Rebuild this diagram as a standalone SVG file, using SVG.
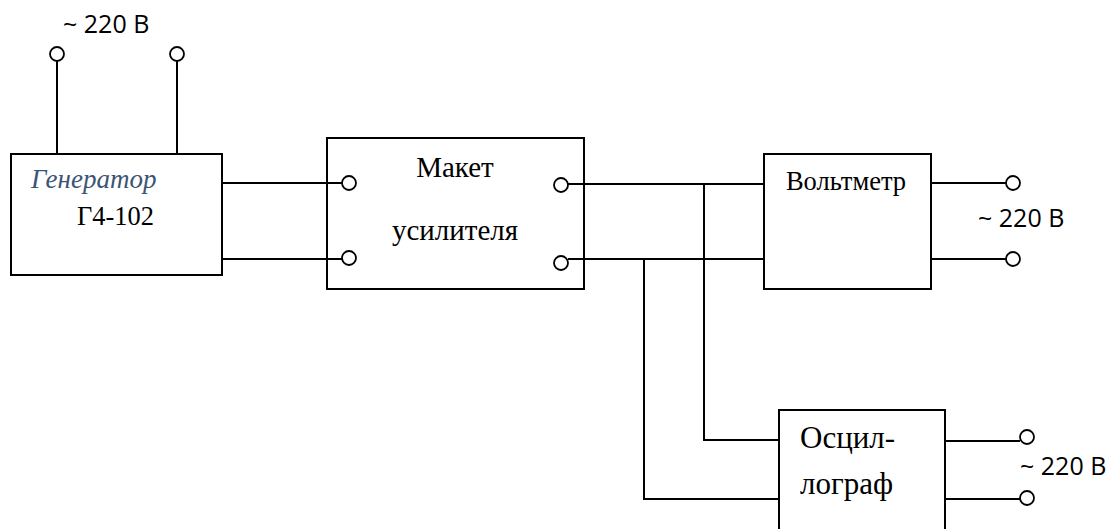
<svg xmlns="http://www.w3.org/2000/svg" width="1112" height="529" viewBox="0 0 1112 529">
<style>
.box{fill:none;stroke:#000;stroke-width:2}
.w{fill:none;stroke:#000;stroke-width:2}
.t{fill:#fff;stroke:#000;stroke-width:1.8}
.cal{font-family:"Open Sans","Noto Sans",sans-serif;font-size:25px;fill:#000}
.tm{font-family:"Liberation Serif","Times New Roman",serif;fill:#000}
</style>
<rect width="1112" height="529" fill="#fff"/>
<g id="connectors">
<path class="w" d="M57 61V154M177 61V154"/>
<path class="w" d="M222 183H342M222 259H342"/>
<path class="w" d="M568 184H764M568 259H764"/>
<path class="w" d="M704 184V440H779M644 259V499H779"/>
<path class="w" d="M931 183H1006M931 259H1006"/>
<path class="w" d="M945 441H1020M945 499H1020"/>
</g>
<g id="mains-top">
<circle class="t" cx="57" cy="54" r="7"/>
<circle class="t" cx="177" cy="54" r="7"/>
<text class="cal" x="63" y="33">~ 220 В</text>
</g>
<g id="generator">
<rect class="box" x="11" y="154" width="211" height="121"/>
<text class="tm" x="31" y="188" font-size="27" font-style="italic" style="fill:#3b5575">Генератор</text>
<text class="tm" x="77" y="225" font-size="26.4">Г4-102</text>
</g>
<g id="maket">
<rect class="box" x="327" y="138" width="257" height="151"/>
<circle class="t" cx="349" cy="183" r="7"/>
<circle class="t" cx="349" cy="258" r="7"/>
<circle class="t" cx="561" cy="185" r="7"/>
<circle class="t" cx="561" cy="263" r="7"/>
<text class="tm" x="455" y="177" font-size="29" text-anchor="middle">Макет</text>
<text class="tm" x="455" y="240" font-size="29" text-anchor="middle">усилителя</text>
</g>
<g id="voltmeter">
<rect class="box" x="764" y="154" width="167" height="135"/>
<text class="tm" x="846" y="190" font-size="26.5" text-anchor="middle">Вольтметр</text>
<circle class="t" cx="1013" cy="183" r="7"/>
<circle class="t" cx="1013" cy="259" r="7"/>
<text class="cal" x="978" y="227">~ 220 В</text>
</g>
<g id="oscillograph">
<rect class="box" x="779" y="410" width="166" height="130"/>
<text class="tm" x="800" y="448" font-size="31">Осцил-</text>
<text class="tm" x="800" y="494" font-size="31">лограф</text>
<circle class="t" cx="1027" cy="437" r="7"/>
<circle class="t" cx="1027" cy="498" r="7"/>
<text class="cal" x="1020" y="475">~ 220 В</text>
</g>
</svg>
